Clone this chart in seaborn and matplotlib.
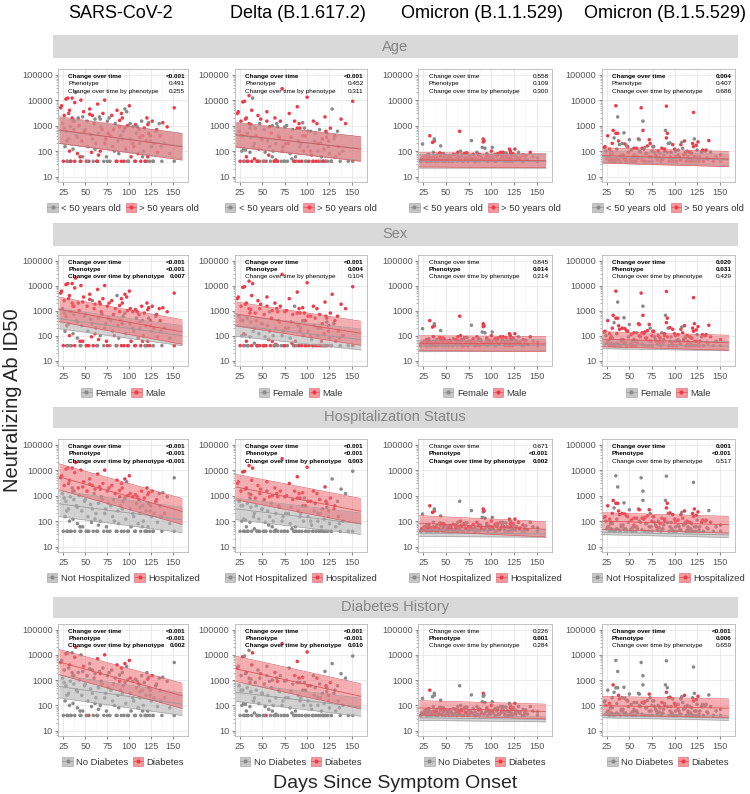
import numpy as np
import pandas as pd
import matplotlib
matplotlib.use("Agg")
import matplotlib.pyplot as plt
import seaborn as sns
from matplotlib.patches import Patch, Rectangle
from matplotlib.lines import Line2D
from matplotlib.legend_handler import HandlerTuple
from matplotlib.ticker import FixedLocator, LogLocator, NullFormatter

sns.set_theme(style="white")
plt.rcParams["font.family"] = ["Liberation Sans", "DejaVu Sans"]

# ---------------- data ----------------
VARIANTS = ["SARS-CoV-2", "Delta (B.1.617.2)", "Omicron (B.1.1.529)", "Omicron (B.1.5.529)"]
PHENOTYPES = ["Age", "Sex", "Hospitalization Status", "Diabetes History"]
GROUP_LABELS = [["< 50 years old", "> 50 years old"],
                ["Female", "Male"],
                ["Not Hospitalized", "Hospitalized"],
                ["No Diabetes", "Diabetes"]]

days = [22, 24, 25, 26, 27, 28, 28, 29, 30, 31,
        32, 32, 33, 34, 35, 35, 36, 37, 37, 38,
        39, 40, 41, 42, 43, 44, 45, 46, 47, 48,
        50, 51, 52, 53, 54, 55, 56, 57, 58, 59,
        60, 61, 62, 63, 64, 65, 65, 66, 67, 68,
        70, 71, 72, 73, 74, 75, 76, 78, 80, 81,
        82, 84, 85, 86, 87, 88, 89, 90, 91, 91,
        92, 93, 94, 95, 96, 97, 98, 99, 100, 101,
        102, 104, 105, 106, 107, 108, 110, 111, 112, 113,
        114, 115, 116, 117, 118, 119, 120, 121, 122, 122,
        123, 124, 125, 126, 127, 128, 130, 132, 134, 135,
        137, 138, 140, 143, 146, 151, 151, 30, 45, 120,
        23, 26, 29, 31, 33, 36, 38, 41, 44, 47,
        49, 52, 55, 58, 61, 64, 67, 69, 72, 75,
        77, 79, 83, 86, 89, 92, 95, 98, 101, 104,
        107, 109, 112, 115, 118, 121, 124, 127, 131, 136]

sars = [5000, 1200, 40, 2500, 150, 11000, 600, 40, 12000, 300,
        4000, 100, 900, 40, 12000, 2000, 120, 1500, 700, 40,
        20000, 400, 80, 2000, 1000, 40, 10000, 250, 60, 3500,
        700, 40, 1500, 150, 40, 4500, 450, 90, 2500, 40,
        1200, 1800, 200, 40, 7000, 70, 500, 2200, 100, 900,
        3000, 40, 10000, 300, 60, 1500, 500, 40, 2500, 150,
        700, 1200, 40, 4000, 250, 80, 900, 400, 3000, 40,
        2000, 600, 40, 4500, 120, 3500, 1000, 40, 6000, 300,
        60, 900, 150, 40, 1100, 500, 80, 700, 200, 40,
        1500, 400, 100, 800, 40, 250, 2000, 60, 1300, 500,
        40, 400, 150, 1500, 40, 200, 600, 90, 1200, 400,
        40, 1300, 200, 900, 80, 5000, 40, 40, 40, 40,
        6000, 800, 250, 3000, 40, 1500, 8000, 350, 60, 2200,
        600, 40, 2800, 300, 120, 40, 1800, 700, 200, 40,
        2000, 400, 100, 40, 1600, 300, 800, 40, 1200, 200,
        40, 900, 350, 60, 40, 1100, 250, 40, 700, 150]

delta = [3000, 600, 40, 1500, 100, 8500, 400, 40, 9000, 110,
         2000, 60, 500, 40, 15000, 1200, 90, 1100, 350, 40,
         12000, 150, 50, 800, 400, 40, 2500, 120, 40, 1800,
         300, 40, 700, 90, 40, 3500, 250, 70, 900, 40,
         500, 1000, 100, 40, 2000, 45, 200, 1200, 40, 400,
         1500, 40, 28000, 150, 40, 900, 200, 40, 3000, 80,
         350, 700, 40, 1500, 60, 40, 5500, 250, 1200, 40,
         800, 200, 40, 1300, 100, 800, 400, 40, 13000, 150,
         40, 600, 70, 40, 1500, 250, 40, 1200, 100, 40,
         700, 200, 60, 300, 40, 120, 2200, 40, 500, 350,
         40, 250, 80, 800, 40, 4500, 300, 60, 600, 150,
         40, 1800, 100, 1200, 40, 9000, 40, 40, 40, 40,
         3500, 400, 120, 1800, 40, 800, 4000, 200, 40, 1200,
         300, 40, 1500, 150, 60, 40, 900, 350, 100, 40,
         1000, 200, 50, 40, 800, 150, 400, 40, 600, 100,
         40, 500, 200, 40, 40, 600, 150, 40, 400, 80]

ba1 = [40, 190, 45, 60, 55, 40, 65, 40, 50, 75,
       400, 40, 55, 40, 220, 45, 60, 250, 300, 40,
       60, 70, 40, 50, 85, 160, 80, 40, 55, 70,
       45, 60, 50, 40, 65, 60, 50, 40, 75, 45,
       70, 55, 40, 90, 60, 600, 45, 100, 70, 40,
       80, 55, 50, 85, 40, 60, 45, 260, 75, 40,
       55, 90, 45, 65, 40, 70, 50, 140, 300, 230,
       250, 130, 55, 80, 40, 65, 60, 45, 100, 140,
       50, 75, 40, 60, 80, 45, 90, 55, 70, 90,
       60, 45, 85, 60, 40, 55, 120, 100, 65, 50,
       40, 80, 70, 120, 45, 60, 90, 55, 40, 70,
       50, 65, 45, 90, 60, 40, 55, 40, 45, 40,
       50, 45, 70, 60, 40, 90, 55, 45, 65, 80,
       40, 60, 55, 45, 70, 50, 60, 40, 85, 45,
       60, 50, 40, 75, 55, 45, 65, 50, 60, 40,
       70, 45, 55, 40, 60, 80, 45, 55, 50, 40]

ba5 = [140, 100, 50, 400, 60, 120, 40, 45, 90, 80,
       650, 40, 330, 40, 500, 6000, 50, 500, 2200, 45,
       180, 40, 60, 200, 70, 520, 190, 50, 40, 150,
       280, 45, 110, 55, 40, 70, 60, 40, 130, 50,
       300, 280, 90, 5000, 130, 650, 1500, 120, 40, 80,
       160, 40, 280, 200, 60, 100, 150, 90, 60, 45,
       100, 80, 40, 130, 50, 70, 100, 650, 330, 5800,
       500, 200, 40, 210, 90, 50, 180, 40, 120, 60,
       40, 110, 60, 45, 180, 220, 70, 250, 90, 40,
       100, 60, 40, 90, 50, 80, 200, 3300, 300, 60,
       40, 170, 110, 230, 40, 60, 90, 40, 100, 110,
       50, 260, 90, 40, 60, 70, 40, 50, 45, 40,
       150, 60, 80, 200, 45, 120, 250, 70, 50, 160,
       90, 40, 130, 60, 100, 45, 140, 80, 60, 40,
       150, 70, 55, 45, 120, 90, 60, 40, 100, 70,
       45, 130, 80, 50, 40, 150, 60, 45, 110, 55]

age_over50 = [1, 0, 1, 1, 0, 1, 0, 1, 1, 0,
              1, 1, 0, 0, 1, 1, 0, 1, 0, 1,
              0, 0, 1, 0, 1, 0, 1, 1, 0, 1,
              0, 1, 0, 0, 1, 1, 0, 1, 1, 0,
              1, 0, 0, 1, 1, 1, 0, 0, 1, 0,
              1, 0, 1, 1, 0, 0, 1, 0, 1, 0,
              1, 0, 1, 1, 0, 0, 1, 0, 1, 1,
              1, 0, 1, 0, 1, 0, 1, 0, 1, 0,
              1, 0, 1, 0, 1, 0, 1, 1, 0, 1,
              0, 1, 0, 1, 0, 1, 1, 1, 0, 1,
              0, 1, 0, 1, 1, 0, 0, 1, 0, 1,
              0, 1, 0, 1, 0, 1, 0, 0, 1, 0,
              1, 0, 0, 1, 1, 0, 1, 0, 1, 0,
              1, 0, 1, 0, 0, 1, 0, 1, 1, 0,
              0, 1, 0, 1, 1, 0, 1, 0, 0, 1,
              1, 0, 1, 0, 1, 1, 0, 0, 1, 0]

male = [1, 0, 1, 1, 0, 1, 1, 1, 1, 0,
        1, 1, 0, 1, 1, 1, 0, 1, 0, 1,
        1, 0, 0, 1, 1, 0, 1, 0, 1, 1,
        0, 1, 1, 0, 1, 1, 0, 1, 0, 1,
        1, 1, 0, 1, 1, 1, 0, 1, 0, 1,
        1, 0, 1, 0, 1, 1, 1, 0, 1, 0,
        1, 1, 1, 0, 1, 0, 1, 0, 1, 1,
        1, 0, 1, 1, 0, 1, 1, 0, 1, 0,
        1, 1, 0, 1, 1, 0, 1, 1, 0, 1,
        1, 0, 1, 1, 0, 1, 1, 1, 1, 0,
        1, 1, 0, 1, 1, 1, 0, 1, 1, 1,
        0, 1, 1, 1, 0, 1, 1, 0, 0, 1,
        1, 0, 1, 1, 0, 1, 1, 0, 1, 1,
        0, 1, 1, 0, 1, 0, 1, 1, 0, 1,
        1, 0, 1, 0, 1, 1, 0, 1, 1, 0,
        1, 1, 0, 1, 0, 1, 1, 0, 1, 0]

hospitalized = [1, 0, 0, 1, 0, 1, 0, 0, 1, 0,
                1, 0, 0, 0, 1, 0, 0, 1, 0, 0,
                1, 0, 0, 1, 0, 0, 1, 0, 0, 1,
                0, 0, 1, 0, 0, 1, 0, 0, 1, 0,
                0, 1, 0, 0, 1, 0, 0, 1, 0, 0,
                1, 0, 1, 0, 0, 1, 0, 0, 1, 0,
                0, 1, 0, 1, 0, 0, 1, 0, 1, 0,
                1, 0, 0, 1, 0, 0, 1, 0, 1, 0,
                0, 1, 0, 0, 1, 0, 0, 1, 0, 0,
                1, 0, 0, 1, 0, 0, 1, 0, 1, 0,
                0, 1, 0, 1, 0, 0, 1, 0, 0, 1,
                0, 0, 1, 0, 0, 0, 0, 0, 0, 0,
                1, 0, 0, 1, 0, 0, 1, 0, 0, 1,
                0, 0, 1, 0, 0, 0, 1, 0, 0, 0,
                1, 0, 0, 0, 1, 0, 0, 0, 1, 0,
                0, 1, 0, 0, 0, 1, 0, 0, 1, 0]

diabetes = [1, 0, 0, 0, 0, 1, 0, 0, 0, 0,
            1, 0, 0, 0, 0, 0, 0, 0, 0, 0,
            1, 0, 0, 0, 0, 0, 0, 0, 0, 1,
            0, 0, 0, 0, 1, 0, 0, 0, 0, 0,
            0, 0, 0, 0, 1, 0, 0, 0, 0, 0,
            0, 0, 1, 0, 0, 0, 0, 0, 0, 0,
            0, 0, 0, 1, 0, 0, 1, 0, 1, 0,
            0, 0, 0, 1, 0, 0, 0, 0, 1, 0,
            0, 0, 0, 0, 0, 0, 0, 1, 0, 0,
            0, 0, 0, 0, 0, 0, 0, 0, 0, 0,
            0, 1, 0, 1, 0, 0, 0, 0, 0, 0,
            0, 0, 0, 0, 0, 0, 0, 0, 0, 0,
            0, 0, 0, 0, 0, 0, 1, 0, 0, 0,
            0, 0, 0, 0, 0, 0, 1, 0, 0, 0,
            0, 0, 0, 0, 0, 0, 0, 0, 1, 0,
            0, 0, 0, 0, 0, 1, 0, 0, 0, 0]

# fitted log10 titres: [value at day 20, value at day 160, band half-width], one per variant
FIT_DAYS = [20, 160]
FIT_GRAY = [
    [[2.80, 2.20, 0.50], [2.62, 2.10, 0.47], [1.62, 1.62, 0.27], [1.78, 1.66, 0.22]],
    [[2.68, 2.00, 0.40], [2.40, 1.85, 0.42], [1.58, 1.62, 0.22], [1.66, 1.58, 0.18]],
    [[2.68, 2.05, 0.50], [2.48, 1.90, 0.42], [1.53, 1.50, 0.13], [1.57, 1.46, 0.10]],
    [[2.75, 2.05, 0.45], [2.52, 1.93, 0.36], [1.51, 1.45, 0.10], [1.60, 1.50, 0.09]],
]
FIT_RED = [
    [[2.83, 2.17, 0.52], [2.65, 2.08, 0.48], [1.66, 1.63, 0.28], [1.83, 1.69, 0.30]],
    [[3.05, 2.15, 0.49], [2.87, 2.10, 0.48], [1.70, 1.67, 0.30], [1.86, 1.72, 0.30]],
    [[3.74, 2.38, 0.51], [3.34, 2.39, 0.50], [1.92, 1.68, 0.30], [2.00, 1.86, 0.33]],
    [[3.72, 2.38, 0.50], [3.45, 2.36, 0.50], [1.90, 1.76, 0.29], [1.99, 1.89, 0.37]],
]

TEST_NAMES = ["Change over time", "Phenotype", "Change over time by phenotype"]
PVALS = [
    [["<0.001", "0.491", "0.255"], ["<0.001", "0.452", "0.311"], ["0.558", "0.109", "0.300"], ["0.004", "0.407", "0.686"]],
    [["<0.001", "<0.001", "0.007"], ["<0.001", "0.004", "0.104"], ["0.845", "0.014", "0.214"], ["0.020", "0.031", "0.429"]],
    [["<0.001", "<0.001", "<0.001"], ["<0.001", "<0.001", "0.003"], ["0.671", "<0.001", "0.002"], ["0.001", "<0.001", "0.517"]],
    [["<0.001", "<0.001", "0.002"], ["<0.001", "<0.001", "0.010"], ["0.226", "0.001", "0.284"], ["<0.001", "0.006", "0.659"]],
]

X_TICKS = [25, 50, 75, 100, 125, 150]
Y_TICKS = [10, 100, 1000, 10000, 100000]
Y_TICK_LABELS = ["10", "100", "1000", "10000", "100000"]

# ---------------- style ----------------
GRAY_PT, RED_PT = "#8A8A8A", "#EE3B4A"
GRAY_FILL, RED_FILL = "#B4B4B4", "#EE6E74"
GRAY_LINE, RED_LINE = "#9A9A9A", "#D9545C"

W, H = 750, 794
fig = plt.figure(figsize=(W / 100, H / 100), dpi=100)
fig.patch.set_facecolor("white")

COL_X = [(58.3, 188.3), (235.0, 367.0), (418.3, 552.0), (601.7, 735.0)]
ROW_Y = [(69, 182), (255, 366), (439, 552), (624, 736)]
STRIP_Y = [(35, 58), (223, 246), (407, 428), (597, 618)]
LEGEND_Y = [208, 393, 578, 762]

values_by_col = [sars, delta, ba1, ba5]
flags_by_row = [age_over50, male, hospitalized, diabetes]

for c, name in enumerate(VARIANTS):
    cx = (COL_X[c][0] + COL_X[c][1]) / 2 - 3
    fig.text(cx / W, 1 - 13 / H, name, ha="center", va="center", fontsize=13, color="black")

for r, ph in enumerate(PHENOTYPES):
    y0, y1 = STRIP_Y[r]
    fig.add_artist(Rectangle((53 / W, 1 - y1 / H), (738 - 53) / W, (y1 - y0) / H,
                             transform=fig.transFigure, facecolor="#D9D9D9", edgecolor="none"))
    fig.text(395 / W, 1 - (y0 + y1) / 2 / H, ph, ha="center", va="center", fontsize=10.5, color="#858585")

    for c in range(4):
        x0, x1 = COL_X[c]
        t0, t1 = ROW_Y[r]
        ax = fig.add_axes([x0 / W, 1 - t1 / H, (x1 - x0) / W, (t1 - t0) / H])
        df = pd.DataFrame({"day": days, "titer": values_by_col[c], "grp": flags_by_row[r]})
        sns.scatterplot(data=df, x="day", y="titer", hue="grp", palette={0: GRAY_PT, 1: RED_PT},
                        s=6.5, linewidth=0, legend=False, ax=ax, zorder=2)
        ax.set_yscale("log")
        fx = np.array(FIT_DAYS, dtype=float)
        for fit, fill, line, a in ((FIT_GRAY[r][c], GRAY_FILL, GRAY_LINE, 0.6),
                                   (FIT_RED[r][c], RED_FILL, RED_LINE, 0.55)):
            cen = np.array(fit[:2])
            hw = fit[2]
            ax.fill_between(fx, 10 ** (cen - hw), 10 ** (cen + hw), color=fill, alpha=a, lw=0, zorder=3)
            ax.plot(fx, 10 ** cen, color=line, lw=0.6, zorder=4)
            ax.plot(fx, 10 ** (cen - hw), color=line, lw=0.4, zorder=4)
            ax.plot(fx, 10 ** (cen + hw), color=line, lw=0.4, zorder=4)

        ax.set_xlim(19.3, 167)
        ax.set_ylim(10 ** 0.79, 10 ** 5.22)
        ax.set_xticks(X_TICKS)
        ax.set_yticks(Y_TICKS)
        ax.set_yticklabels(Y_TICK_LABELS)
        ax.yaxis.set_minor_locator(LogLocator(base=10, subs=np.arange(2, 10)))
        ax.yaxis.set_minor_formatter(NullFormatter())
        ax.xaxis.set_minor_locator(FixedLocator([37.5, 62.5, 87.5, 112.5, 137.5]))
        ax.set_xlabel("")
        ax.set_ylabel("")
        ax.tick_params(axis="both", which="major", labelsize=6.6, colors="#555555",
                       length=2.5, width=0.5, pad=1.5, left=True, bottom=True)
        ax.tick_params(axis="y", which="minor", length=1.5, width=0.4, color="#777777", left=True)
        ax.tick_params(axis="x", which="minor", length=0)
        ax.set_axisbelow(True)
        ax.grid(True, which="major", color="#E8E8E8", lw=0.6)
        ax.grid(True, which="minor", axis="x", color="#F2F2F2", lw=0.4)
        ax.set_facecolor("white")
        for sp in ax.spines.values():
            sp.set_color("#B8B8B8")
            sp.set_linewidth(0.6)

        ys = [0.932, 0.868, 0.804]
        for k in range(3):
            p = PVALS[r][c][k]
            sig = p.startswith("<") or float(p) < 0.05
            fw = "bold" if sig else "normal"
            ax.text(0.077, ys[k], TEST_NAMES[k], transform=ax.transAxes, fontsize=4.6,
                    fontweight=fw, ha="left", va="center", color="black", zorder=6)
            ax.text(0.975, ys[k], p, transform=ax.transAxes, fontsize=4.6,
                    fontweight=fw, ha="right", va="center", color="black", zorder=6)

        handles = [
            (Patch(facecolor=GRAY_FILL, edgecolor=GRAY_LINE, alpha=0.75, lw=0.5),
             Line2D([], [], color=GRAY_LINE, lw=0.5, marker="o", ms=2, mfc=GRAY_PT, mec=GRAY_PT)),
            (Patch(facecolor=RED_FILL, edgecolor=RED_LINE, alpha=0.7, lw=0.5),
             Line2D([], [], color=RED_LINE, lw=0.5, marker="o", ms=2, mfc=RED_PT, mec=RED_PT)),
        ]
        ly = (LEGEND_Y[r] - t1) / (t1 - t0)
        ax.legend(handles, GROUP_LABELS[r], handler_map={tuple: HandlerTuple(ndivide=1, pad=0)},
                  loc="center", bbox_to_anchor=(0.5, -ly), ncol=2, frameon=False,
                  fontsize=6.8, handlelength=1.1, handleheight=1.1, handletextpad=0.35,
                  columnspacing=0.5, borderaxespad=0, labelcolor="#333333")

fig.text(13 / W, 1 - 400 / H, "Neutralizing Ab ID50", rotation=90, ha="center", va="center", fontsize=14.5)
fig.text(395 / W, 1 - 783 / H, "Days Since Symptom Onset", ha="center", va="center", fontsize=14)

fig.savefig("out.png", dpi=100, facecolor="white")
